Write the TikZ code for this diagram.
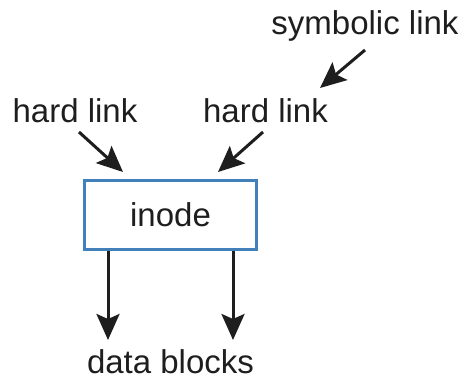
\documentclass[tikz,border=0pt]{standalone}
\usepackage{fontspec}
\setmainfont{Liberation Sans}
\usetikzlibrary{arrows.meta}
\definecolor{boxblue}{RGB}{66,128,186}
\definecolor{ink}{RGB}{30,30,30}
\begin{document}
\begin{tikzpicture}[x=1pt,y=1pt,
  lbl/.style={font=\fontsize{33}{40}\selectfont, text=ink, inner sep=0pt, anchor=base},
  arr/.style={draw=ink, line width=3pt, -{Stealth[length=26pt,width=23pt,inset=5pt]}},
  inodebox/.style={draw=boxblue, line width=3pt, minimum width=172pt, minimum height=69pt, inner sep=0pt, font=\fontsize{33}{40}\selectfont, text=ink}]
\useasboundingbox (0,0) rectangle (468,381);
\node[inodebox] (inode) at (170.5,166.5) {inode};
\node[lbl] (hl1) at (75,259) {hard link};
\node[lbl] (hl2) at (265.5,259) {hard link};
\node[lbl] (sym) at (365,346) {symbolic link};
\node[lbl] (data) at (170.5,8) {data blocks};
\coordinate (a1s) at (79,249);
\coordinate (a1e) at (123,209);
\coordinate (a2s) at (263,249);
\coordinate (a2e) at (218,209);
\coordinate (a3s) at (365,331);
\coordinate (a3e) at (320,293);
\coordinate (d1) at (108,41);
\coordinate (d2) at (233,41);
\draw[arr] (a1s) -- (a1e);
\draw[arr] (a2s) -- (a2e);
\draw[arr] (a3s) -- (a3e);
\draw[arr] (inode.south -| d1) -- (d1);
\draw[arr] (inode.south -| d2) -- (d2);
\end{tikzpicture}
\end{document}
